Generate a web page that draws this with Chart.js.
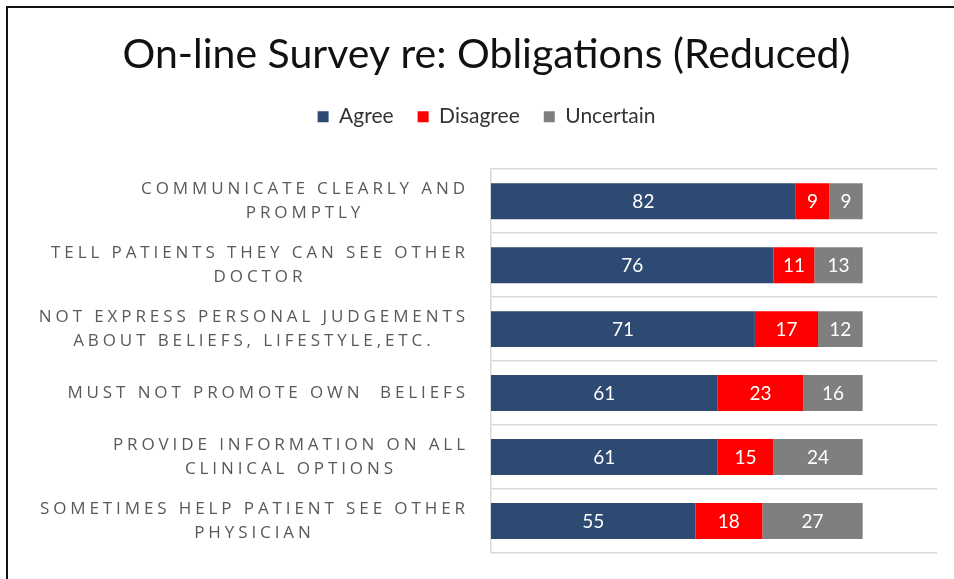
<!DOCTYPE html>
<html>
<head>
<meta charset="utf-8">
<script src="https://cdn.jsdelivr.net/npm/chart.js@4"></script>
<style>
  html, body { margin: 0; padding: 0; background: #fff; }
  #wrap { position: relative; width: 954px; height: 579px; }
  #frame { position: absolute; left: 6px; top: 6px; right: 0; bottom: 0;
           border-left: 2px solid #111; border-top: 2px solid #111; pointer-events: none; }
  canvas { display: block; }
</style>
</head>
<body>
<div id="wrap">
  <canvas id="chart" width="954" height="579"></canvas>
  <div id="frame"></div>
</div>
<script>
const categories = [
  ['COMMUNICATE CLEARLY AND', 'PROMPTLY'],
  ['TELL PATIENTS THEY CAN SEE OTHER', 'DOCTOR'],
  ['NOT EXPRESS PERSONAL JUDGEMENTS', 'ABOUT BELIEFS, LIFESTYLE,ETC.'],
  ['MUST NOT PROMOTE OWN  BELIEFS'],
  ['PROVIDE INFORMATION ON ALL', 'CLINICAL OPTIONS'],
  ['SOMETIMES HELP PATIENT SEE OTHER', 'PHYSICIAN']
];
const agree = [82, 76, 71, 61, 61, 55];
const disagree = [9, 11, 17, 23, 15, 18];
const uncertain = [9, 13, 12, 16, 24, 27];

// category labels: block right aligned, lines centred inside the block (like Excel)
const catLabels = {
  id: 'catLabels',
  afterDraw(chart) {
    const ctx = chart.ctx;
    const y = chart.scales.y;
    ctx.save();
    ctx.font = '17px "Open Sans"';
    ctx.letterSpacing = '3.9px';
    ctx.fillStyle = '#595959';
    ctx.textBaseline = 'middle';
    ctx.textAlign = 'center';
    const right = chart.chartArea.left - 24;
    categories.forEach((lines, i) => {
      const w = Math.max(...lines.map(l => ctx.measureText(l).width));
      const cx = right - w / 2;
      const cy = y.getPixelForValue(i);
      const lh = 24;
      lines.forEach((l, k) => {
        ctx.fillText(l, cx + 1.9, cy + (k - (lines.length - 1) / 2) * lh);
      });
    });
    ctx.restore();
  }
};

const valueLabels = {
  id: 'valueLabels',
  afterDatasetsDraw(chart) {
    const ctx = chart.ctx;
    ctx.save();
    ctx.font = '19px Lato';
    ctx.fillStyle = '#fff';
    ctx.textAlign = 'center';
    ctx.textBaseline = 'middle';
    chart.data.datasets.forEach((ds, di) => {
      chart.getDatasetMeta(di).data.forEach((bar, i) => {
        const p = bar.getCenterPoint();
        ctx.fillText(ds.data[i], p.x, p.y + 1);
      });
    });
    ctx.restore();
  }
};

// extra room under the legend before the plot starts
const legendGap = {
  id: 'legendGap',
  beforeUpdate(chart) {
    const lg = chart.legend;
    if (lg && !lg._gapPatched) {
      const fit = lg.fit;
      lg.fit = function () { fit.call(this); this.height = 87; };
      lg._gapPatched = true;
    }
  }
};

new Chart(document.getElementById('chart'), {
  type: 'bar',
  data: {
    labels: categories,
    datasets: [
      { label: 'Agree', data: agree, backgroundColor: '#2c4a72' },
      { label: 'Disagree', data: disagree, backgroundColor: '#ff0000' },
      { label: 'Uncertain', data: uncertain, backgroundColor: '#7f7f7f' }
    ]
  },
  options: {
    indexAxis: 'y',
    responsive: false,
    animation: false,
    categoryPercentage: 1,
    barPercentage: 0.5625,
    layout: { padding: { left: 36, right: 17, top: 20, bottom: 26 } },
    scales: {
      x: { stacked: true, min: 0, max: 120, display: false },
      y: {
        stacked: true,
        ticks: { display: false },
        grid: { color: '#d9d9d9', lineWidth: 1.5, drawTicks: false },
        border: { color: '#d9d9d9', width: 1.5 },
        afterFit(scale) { scale.width = 455; }
      }
    },
    plugins: {
      title: {
        display: true,
        text: 'On-line Survey re: Obligations (Reduced)',
        color: '#111',
        font: { family: 'Lato', size: 41, weight: 'normal' },
        padding: { top: 10, bottom: 3 }
      },
      legend: {
        position: 'top',
        labels: {
          boxWidth: 11, boxHeight: 11,
          color: '#333',
          font: { family: 'Lato', size: 21 },
          padding: 24
        }
      },
      tooltip: { enabled: false }
    }
  },
  plugins: [catLabels, valueLabels, legendGap]
});
</script>
</body>
</html>
